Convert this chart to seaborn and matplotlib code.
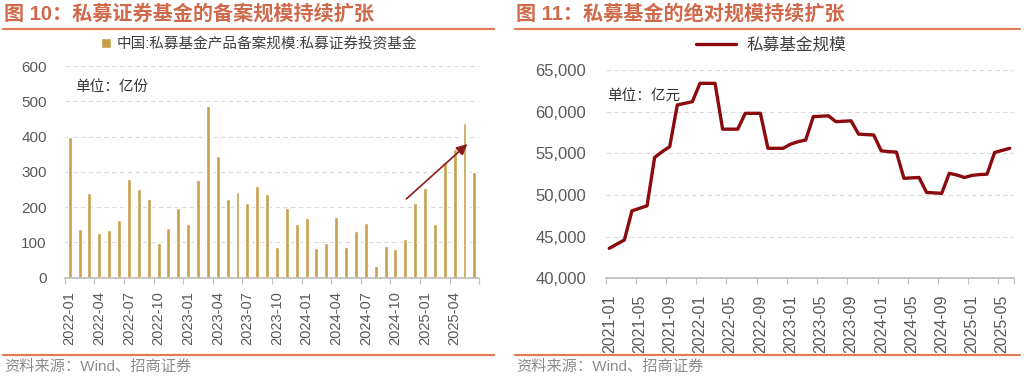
import numpy as np
import pandas as pd
import matplotlib
matplotlib.use("Agg")
import matplotlib.pyplot as plt
from matplotlib.lines import Line2D
from matplotlib.ticker import FuncFormatter
import seaborn as sns

# ---------------- data ----------------
bar_months = pd.date_range("2022-01-01", "2025-06-01", freq="MS").strftime("%Y-%m").tolist()
bar_values = [400, 138, 240, 128, 134, 163, 281, 250, 222, 97,
              141, 198, 152, 278, 488, 344, 223, 244, 211, 259,
              236, 86, 198, 153, 168, 84, 99, 171, 88, 133,
              156, 34, 90, 81, 111, 211, 253, 152, 329, 366, 438, 300]
bar_label = "中国:私募基金产品备案规模:私募证券投资基金"

line_months = pd.date_range("2021-01-01", "2025-06-01", freq="MS").strftime("%Y-%m").tolist()
line_values = [43600, 44100, 44600, 48100, 48400, 48700, 54500, 55200, 55800,
               60800, 61000, 61200, 63400, 63400, 63400, 57900, 57900, 57900,
               59800, 59800, 59800, 55600, 55600, 55600, 56100, 56400, 56600,
               59400, 59450, 59500, 58800, 58850, 58900, 57300, 57250, 57200,
               55300, 55200, 55150, 52000, 52050, 52100, 50300, 50250, 50200,
               52600, 52400, 52100, 52350, 52450, 52500, 55100, 55350, 55600]
line_label = "私募基金规模"

title_left = "图 10：私募证券基金的备案规模持续扩张"
title_right = "图 11：私募基金的绝对规模持续扩张"
source_text = "资料来源：Wind、招商证券"
unit_left = "单位：亿份"
unit_right = "单位：亿元"

# ---------------- style ----------------
sns.set_theme(style="white")
plt.rcParams["font.family"] = ["Liberation Sans", "Noto Sans CJK SC", "DejaVu Sans"]

BAR_C = "#C6A04B"
LINE_C = "#8B0A0E"
TITLE_C = "#D0694A"
RULE_C = "#E07B5A"
TICK_C = "#595959"
GRID_C = "#D9D9D9"
AXIS_C = "#BFBFBF"

W, H = 1024, 379
fig = plt.figure(figsize=(W / 100, H / 100), dpi=100)


def fx(px):
    return px / W


def fy(py):
    return 1 - py / H


# ---------------- left panel ----------------
axL = fig.add_axes([fx(64.8), fy(277.7), fx(479.3 - 64.8), (277.7 - 66) / H])
sns.barplot(x=bar_months, y=bar_values, color=BAR_C, saturation=1, width=0.4,
            ax=axL, label=bar_label)
axL.set_xlim(-0.5, len(bar_months) - 0.5)
axL.set_ylim(0, 600)
axL.set_yticks(range(0, 601, 100))
axL.yaxis.grid(True, color=GRID_C, linestyle=(0, (4, 3)), linewidth=0.8)
axL.set_axisbelow(True)
maj = list(range(0, len(bar_months), 3))
axL.set_xticks(maj)
axL.set_xticklabels([bar_months[i] for i in maj], rotation=90)
axL.set_xticks(list(np.arange(-0.5, len(bar_months), 3)) + [len(bar_months) - 0.5], minor=True)
axL.tick_params(axis="x", which="major", length=0, pad=10, labelsize=10.5, labelcolor=TICK_C)
axL.tick_params(axis="x", which="minor", length=4, color=AXIS_C, width=0.8, bottom=True)
axL.tick_params(axis="y", length=0, pad=13, labelsize=11, labelcolor=TICK_C)
for s in ["top", "right", "left"]:
    axL.spines[s].set_visible(False)
axL.spines["bottom"].set_color(AXIS_C)
axL.set_xlabel("")
axL.set_ylabel("")
axL.text(fx(80) , 0, "")
axL.text(0.6, 540, unit_left, fontsize=10.5, color="#333333", va="center", ha="left")
axL.annotate("", xy=(40.5, 384), xytext=(33.9, 218),
             arrowprops=dict(arrowstyle="-|>", color="#8B1A1A", lw=1.2, mutation_scale=16))
legL = axL.legend(loc="center", bbox_to_anchor=(fx(259), fy(44)), bbox_transform=fig.transFigure,
                  frameon=False, fontsize=10.5, handlelength=0.7, handleheight=0.7,
                  handletextpad=0.4)
for t in legL.get_texts():
    t.set_color("#404040")

# ---------------- right panel ----------------
axR = fig.add_axes([fx(605.5), fy(278.3), fx(1013.5 - 605.5), (278.3 - 70) / H])
sns.lineplot(x=np.arange(len(line_months)), y=line_values, color=LINE_C, linewidth=2.4,
             ax=axR, label=line_label)
axR.set_xlim(-0.5, len(line_months) - 0.5)
axR.set_ylim(40000, 65000)
axR.set_yticks(range(40000, 65001, 5000))
axR.yaxis.set_major_formatter(FuncFormatter(lambda v, p: f"{v:,.0f}"))
axR.yaxis.grid(True, color=GRID_C, linestyle=(0, (4, 3)), linewidth=0.8)
axR.set_axisbelow(True)
majR = list(range(0, len(line_months), 4))
axR.set_xticks(majR)
axR.set_xticklabels([line_months[i] for i in majR], rotation=90)
axR.set_xticks(list(np.arange(-0.5, len(line_months), 4)) + [len(line_months) - 0.5], minor=True)
axR.tick_params(axis="x", which="major", length=0, pad=12, labelsize=11.5, labelcolor=TICK_C)
axR.tick_params(axis="x", which="minor", length=4, color=AXIS_C, width=0.8, bottom=True)
axR.tick_params(axis="y", length=0, pad=14, labelsize=12, labelcolor=TICK_C)
for s in ["top", "right", "left"]:
    axR.spines[s].set_visible(False)
axR.spines["bottom"].set_color(AXIS_C)
axR.set_xlabel("")
axR.set_ylabel("")
axR.text(-0.3, 61900, unit_right, fontsize=10.5, color="#333333", va="center", ha="left")
legR = axR.legend(loc="center", bbox_to_anchor=(fx(771), fy(45)), bbox_transform=fig.transFigure,
                  frameon=False, fontsize=12, handlelength=2.4, handletextpad=0.6)
for t in legR.get_texts():
    t.set_color("#404040")

# ---------------- titles, rules, sources ----------------
fig.text(fx(4), fy(14), title_left, fontsize=14.5, fontweight="bold", color=TITLE_C,
         ha="left", va="center")
fig.text(fx(516), fy(14), title_right, fontsize=14.5, fontweight="bold", color=TITLE_C,
         ha="left", va="center")
for x0, x1 in [(3, 494), (515, 1020)]:
    for yy in (29, 355):
        fig.add_artist(Line2D([fx(x0), fx(x1)], [fy(yy), fy(yy)], color=RULE_C, lw=1.6,
                              transform=fig.transFigure))
fig.text(fx(4), fy(367), source_text, fontsize=11, color="#8C8C8C", ha="left", va="center")
fig.text(fx(516), fy(367), source_text, fontsize=11, color="#8C8C8C", ha="left", va="center")

fig.savefig("out.png", dpi=100)
